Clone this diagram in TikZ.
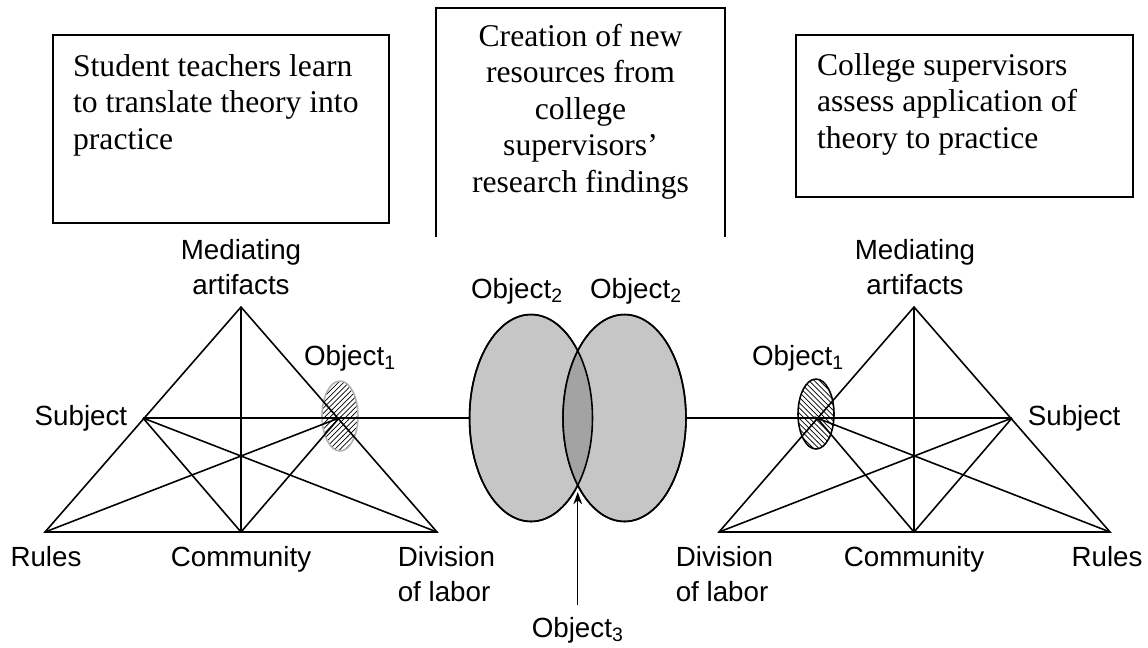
\documentclass[tikz,border=0pt]{standalone}
\usepackage{fontspec}
\setmainfont{Liberation Serif}
\setsansfont{Liberation Sans}
\usepackage{tikz}
\usetikzlibrary{shapes,arrows,positioning,calc,patterns,arrows.meta}
\definecolor{objgray}{HTML}{C6C6C6}
\definecolor{sharedgray}{HTML}{A3A3A3}

\begin{document}
\begin{tikzpicture}[x=0.02cm, y=-0.02cm, line width=0.9pt,
    frame/.style={draw, line width=0.8pt, inner sep=0pt},
    boxtext/.style={font=\fontsize{18}{20.8}\selectfont, align=left, inner sep=0pt},
    lbl/.style={font=\sffamily\fontsize{15.8}{19.8}\selectfont, inner sep=0pt, align=center, anchor=base},
    bigobj/.style={ellipse, draw, fill=objgray, minimum width=2.46cm, minimum height=4.14cm, inner sep=0pt},
    smallobj/.style={ellipse, minimum width=0.72cm, minimum height=1.4cm, inner sep=0pt}]

    \useasboundingbox (0,0) rectangle (1148,647);

    % boxes on top
    \node[frame, minimum width=6.72cm, minimum height=3.76cm] (boxL) at (221,129) {};
    \node[boxtext, anchor=north west] (txtL) at ([shift={(20,19)}]boxL.north west)
        {Student teachers learn\\to translate theory into\\practice};
    \draw[line width=0.8pt] (436,237) -- (436,8) -- (725,8) -- (725,237);
    \node[boxtext, align=center, anchor=north] (txtM) at (580.5,23)
        {Creation of new\\resources from\\college\\supervisors’\\research findings};
    \node[frame, minimum width=6.74cm, minimum height=3.24cm] (boxR) at (964.5,116) {};
    \node[boxtext, anchor=north west] (txtR) at ([shift={(21,18)}]boxR.north west)
        {College supervisors\\assess application of\\theory to practice};

    % left activity system
    \coordinate (lM) at (241,307);
    \coordinate (lS) at (143,418);
    \coordinate (lO) at (339,418);
    \coordinate (lR) at (45,532);
    \coordinate (lC) at (241,532);
    \coordinate (lD) at (437,532);
    \node[smallobj, draw=gray!60, pattern=north east lines] (o1L) at (340,416) {};
    \draw (lR) -- (lM) -- (lD) -- cycle;
    \draw (lM) -- (lC);
    \draw (lS) -- (lC) (lS) -- (lD);
    \draw (lR) -- (lO) -- (lC);

    % right activity system
    \coordinate (rM) at (914,307);
    \coordinate (rS) at (1012,418);
    \coordinate (rO) at (817,418);
    \coordinate (rD) at (719,532);
    \coordinate (rC) at (914,532);
    \coordinate (rR) at (1110,532);
    \node[smallobj, draw, pattern=north west lines] (o1R) at (816,414) {};
    \draw (rD) -- (rM) -- (rR) -- cycle;
    \draw (rM) -- (rC);
    \draw (rS) -- (rC) (rS) -- (rD);
    \draw (rR) -- (rO) -- (rC);

    % shared object
    \node[bigobj] (o2L) at (531,418) {};
    \node[bigobj] (o2R) at (624.5,418) {};
    \begin{scope}
        \clip (o2L.center) ellipse [x radius=1.23cm, y radius=2.07cm];
        \fill[sharedgray] (o2R.center) ellipse [x radius=1.23cm, y radius=2.07cm];
    \end{scope}
    \draw (o2L.center) ellipse [x radius=1.23cm, y radius=2.07cm];
    \draw (o2R.center) ellipse [x radius=1.23cm, y radius=2.07cm];
    \draw (lS) -- (o2L.west);
    \draw (o2R.east) -- (rS);
    \coordinate (meet) at (577.75,492);
    \coordinate (tail) at (577.75,605);

    % labels
    \node[lbl] (mlL) at (241,294) {Mediating\\artifacts};
    \node[lbl, anchor=base east] (sbL) at (128,425) {Subject};
    \node[lbl] (ruL) at (46,566) {Rules};
    \node[lbl] (coL) at (241,566) {Community};
    \node[lbl, align=left, anchor=base west] (dvL) at (397,601) {Division\\of labor};
    \node[lbl] (obL) at (350,365) {Object\textsubscript{1}};

    \node[lbl] (mlR) at (915,294) {Mediating\\artifacts};
    \node[lbl, anchor=base west] (sbR) at (1027,425) {Subject};
    \node[lbl] (ruR) at (1107,566) {Rules};
    \node[lbl] (coR) at (914,566) {Community};
    \node[lbl, align=left, anchor=base west] (dvR) at (675,601) {Division\\of labor};
    \node[lbl] (obR) at (798,365) {Object\textsubscript{1}};

    \node[lbl] (ob2L) at (517,298) {Object\textsubscript{2}};
    \node[lbl] (ob2R) at (636,298) {Object\textsubscript{2}};
    \node[lbl] (ob3) at (577.75,637) {Object\textsubscript{3}};
    \draw[line width=0.8pt, -{Stealth[length=7pt,width=5pt]}] (tail) -- (meet);
\end{tikzpicture}
\end{document}
